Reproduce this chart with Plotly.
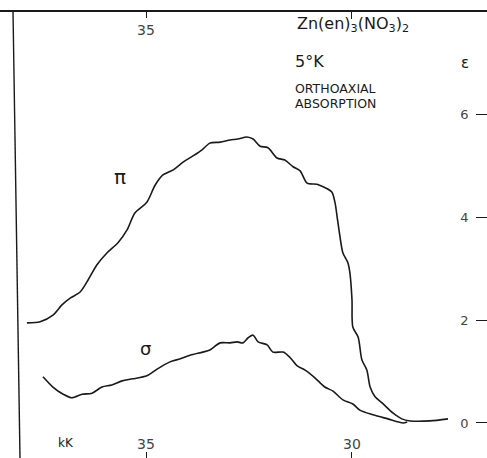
import plotly.graph_objects as go

# ---- data (wavenumber in kK, extinction coefficient epsilon) ----
pi_kK = [37.89, 37.57, 37.26, 37.04, 36.84, 36.60, 36.41, 36.19, 35.95, 35.68,
         35.46, 35.27, 34.98, 34.78, 34.59, 34.34, 34.10, 33.86, 33.64, 33.45,
         33.20, 32.96, 32.77, 32.55, 32.40, 32.23, 32.04, 31.82, 31.63, 31.43,
         31.26, 31.09, 30.85, 30.70, 30.49, 30.41, 30.36, 30.29, 30.22, 30.10,
         30.05, 30.00, 29.98, 29.85, 29.76, 29.64, 29.56, 29.44, 29.27, 29.00,
         28.79, 28.59, 28.11, 27.67]
pi_eps = [1.95, 1.97, 2.10, 2.30, 2.43, 2.55, 2.78, 3.08, 3.31, 3.51,
          3.76, 4.09, 4.30, 4.63, 4.83, 4.93, 5.08, 5.20, 5.32, 5.45,
          5.47, 5.51, 5.53, 5.57, 5.53, 5.39, 5.36, 5.16, 5.12, 4.99,
          4.91, 4.67, 4.65, 4.60, 4.50, 4.28, 4.01, 3.62, 3.31, 3.12,
          2.92, 2.40, 1.87, 1.67, 1.23, 1.03, 0.70, 0.51, 0.39, 0.19,
          0.08, 0.04, 0.04, 0.08]

sigma_kK = [37.50, 37.26, 37.01, 36.80, 36.55, 36.31, 36.07, 35.83, 35.58, 35.32,
            34.98, 34.73, 34.42, 34.17, 33.93, 33.62, 33.45, 33.20, 32.96, 32.79,
            32.65, 32.52, 32.40, 32.28, 32.06, 31.92, 31.67, 31.50, 31.33, 31.14,
            30.90, 30.66, 30.46, 30.22, 29.98, 29.81, 29.49, 29.13, 28.76, 28.66]
sigma_eps = [0.90, 0.70, 0.56, 0.49, 0.56, 0.58, 0.70, 0.74, 0.82, 0.86,
             0.92, 1.05, 1.19, 1.25, 1.32, 1.38, 1.42, 1.56, 1.56, 1.58,
             1.56, 1.66, 1.71, 1.58, 1.52, 1.38, 1.38, 1.27, 1.11, 1.03,
             0.88, 0.70, 0.62, 0.45, 0.37, 0.25, 0.16, 0.08, 0.00, 0.02]

x_tickvals = [35, 30]
x_ticktext = ["35", "30"]
top_tickvals = [35]
top_ticktext = ["35"]
top_minor_ticks = [30]
y_tickvals = [0, 2, 4, 6]
y_ticktext = ["0", "2", "4", "6"]

W, H = 487, 458
FONT = "DejaVu Sans"
INK = "#1a1a1a"

def px(x):
    return x / W

def py(y):
    return 1 - y / H

fig = go.Figure()
line_style = dict(color=INK, width=1.6, shape="spline", smoothing=0.8)
fig.add_trace(go.Scatter(x=pi_kK, y=pi_eps, mode="lines", line=line_style,
                         name="π", showlegend=False, hoverinfo="skip"))
fig.add_trace(go.Scatter(x=sigma_kK, y=sigma_eps, mode="lines", line=line_style,
                         name="σ", showlegend=False, hoverinfo="skip"))
# invisible trace to activate the top axis
fig.add_trace(go.Scatter(x=[35], y=[0], xaxis="x2", mode="markers",
                         marker=dict(opacity=0), showlegend=False, hoverinfo="skip"))

fig.update_layout(
    width=W, height=H,
    margin=dict(l=0, r=0, t=0, b=0),
    paper_bgcolor="white", plot_bgcolor="white",
    font=dict(family=FONT, color=INK, size=14),
    xaxis=dict(range=[38.544, 26.723], showgrid=False, zeroline=False,
               showline=False, ticks="inside", ticklen=6, tickwidth=1.2,
               tickcolor=INK, tickvals=x_tickvals, ticktext=x_ticktext,
               ticklabelposition="inside", tickfont=dict(size=14, family=FONT)),
    xaxis2=dict(range=[38.544, 26.723], overlaying="x", side="top",
                anchor="free", position=py(11), showgrid=False, zeroline=False,
                showline=True, linecolor=INK, linewidth=1.5,
                ticks="inside", ticklen=6, tickwidth=1.2, tickcolor=INK,
                tickvals=top_tickvals, ticktext=top_ticktext,
                minor=dict(tickvals=top_minor_ticks, ticks="inside", ticklen=7,
                           tickwidth=1.2, tickcolor=INK, showgrid=False),
                ticklabelposition="inside", ticklabelstandoff=7,
                tickfont=dict(size=14, family=FONT)),
    yaxis=dict(range=[-0.682, 8.237], side="right", showgrid=False,
               zeroline=False, showline=False, ticks="inside", ticklen=11,
               tickwidth=1.3, tickcolor=INK, tickvals=y_tickvals,
               ticktext=y_ticktext, ticklabelposition="inside",
               ticklabelstandoff=7, tickfont=dict(size=13, family=FONT)),
)

# left frame line (slightly tilted, as in the scanned original)
fig.add_shape(type="line", xref="paper", yref="paper",
              x0=px(13), y0=py(11), x1=px(20), y1=py(458),
              line=dict(color=INK, width=1.4))

annots = [
    dict(x=px(295), y=py(25), text="Zn(en)<sub>3</sub>(NO<sub>3</sub>)<sub>2</sub>",
         size=16, xanchor="left"),
    dict(x=px(293), y=py(62), text="5°K", size=16, xanchor="left"),
    dict(x=px(293), y=py(88), text="ORTHOAXIAL", size=12.5, xanchor="left"),
    dict(x=px(293), y=py(104), text="ABSORPTION", size=12.5, xanchor="left"),
    dict(x=px(465), y=py(63), text="ε", size=15, xanchor="center"),
    dict(x=px(120), y=py(177), text="π", size=20, xanchor="center"),
    dict(x=px(145), y=py(348), text="σ", size=18, xanchor="center"),
    dict(x=px(66), y=py(443), text="kK", size=12, xanchor="center"),
]
for a in annots:
    fig.add_annotation(x=a["x"], y=a["y"], xref="paper", yref="paper",
                       text=a["text"], showarrow=False, xanchor=a["xanchor"],
                       yanchor="middle", font=dict(size=a["size"], family=FONT, color=INK))

fig.write_html("out.html", config={"displayModeBar": False},
               post_script="document.body.style.margin='0';"
                           "document.body.style.overflow='hidden';")
